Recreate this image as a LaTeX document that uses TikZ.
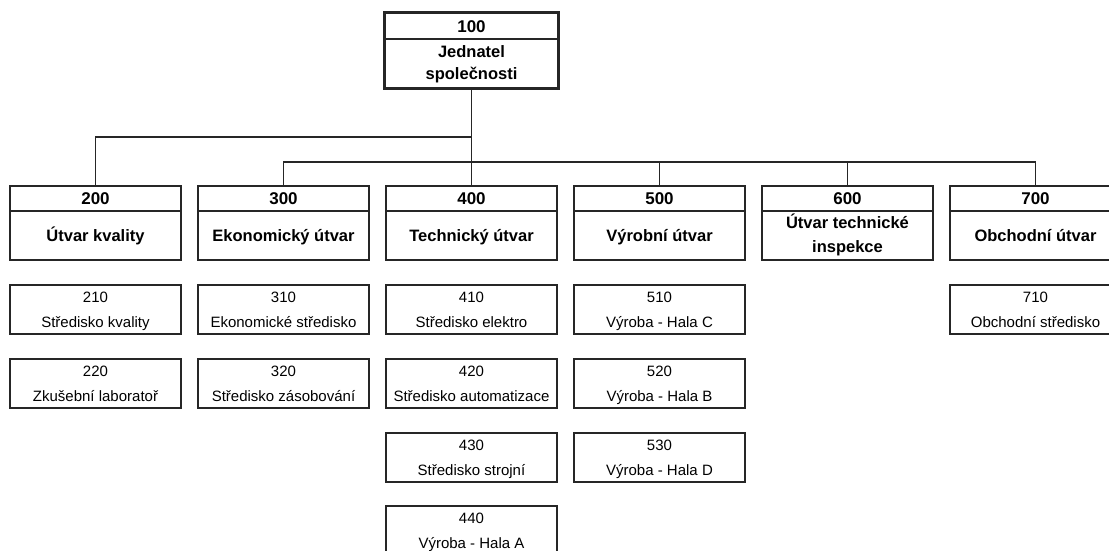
\documentclass[tikz,border=0pt]{standalone}
\usepackage{fontspec}
\setmainfont{Liberation Sans}
\begin{document}
\begin{tikzpicture}[x=1pt,y=-1pt,
  box/.style={draw=black!85, line width=1.6pt, minimum width=171pt, inner sep=0pt, align=center},
  hd/.style={box, minimum height=25pt, text height=12.2pt, text depth=0pt, font=\fontsize{17}{18}\selectfont\bfseries},
  nm/.style={box, minimum height=49pt, text height=11.8pt, text depth=0pt, font=\fontsize{16.5}{24}\selectfont\bfseries},
  nmtwo/.style={nm, text height=35.8pt, text depth=1.8pt},
  tophd/.style={hd, minimum width=173pt},
  topnm/.style={nm, minimum width=173pt, text height=33.8pt, text depth=1.8pt, font=\fontsize{16.5}{22}\selectfont\bfseries},
  sub/.style={box, minimum height=49pt, text height=40pt, text depth=4pt, font=\fontsize{15}{25}\selectfont},
  link/.style={draw=black!85, line width=1.6pt}]
\useasboundingbox (0,0) rectangle (1109,550);
\fill[white] (0,0) rectangle (1109,550);

% top
\node[tophd] (h100) at (471.5,26) {100};
\node[topnm] (n100) at (471.5,63.5) {Jednatel\\společnosti};
\draw[draw=black!85, line width=3pt] (h100.north west) rectangle (n100.south east);

% level 2
\node[hd] (h200) at (95.5,198.5) {200};
\node[nm] (n200) at (95.5,235.5) {Útvar kvality};
\node[hd] (h300) at (283.5,198.5) {300};
\node[nm] (n300) at (283.5,235.5) {Ekonomický útvar};
\node[hd] (h400) at (471.5,198.5) {400};
\node[nm] (n400) at (471.5,235.5) {Technický útvar};
\node[hd] (h500) at (659.5,198.5) {500};
\node[nm] (n500) at (659.5,235.5) {Výrobní útvar};
\node[hd] (h600) at (847.5,198.5) {600};
\node[nmtwo] (n600) at (847.5,235.5) {Útvar technické\\inspekce};
\node[hd] (h700) at (1035.5,198.5) {700};
\node[nm] (n700) at (1035.5,235.5) {Obchodní útvar};

% level 3
\node[sub] (s210) at (95.5,309.5) {210\\Středisko kvality};
\node[sub] (s220) at (95.5,383.5) {220\\Zkušební laboratoř};
\node[sub] (s310) at (283.5,309.5) {310\\Ekonomické středisko};
\node[sub] (s320) at (283.5,383.5) {320\\Středisko zásobování};
\node[sub] (s410) at (471.5,309.5) {410\\Středisko elektro};
\node[sub] (s420) at (471.5,383.5) {420\\Středisko automatizace};
\node[sub] (s430) at (471.5,457.5) {430\\Středisko strojní};
\node[sub] (s440) at (471.5,530.5) {440\\Výroba - Hala A};
\node[sub] (s510) at (659.5,309.5) {510\\Výroba - Hala C};
\node[sub] (s520) at (659.5,383.5) {520\\Výroba - Hala B};
\node[sub] (s530) at (659.5,457.5) {530\\Výroba - Hala D};
\node[sub] (s710) at (1035.5,309.5) {710\\Obchodní středisko};

% connectors
\coordinate (j1) at (471.5,137);
\coordinate (j2) at (471.5,162);
\draw[link] (n100.south) -- (h400.north);
\draw[link] (h200.north) |- (j1);
\draw[link] (h300.north) |- (j2);
\draw[link] (h500.north) |- (j2);
\draw[link] (h600.north) |- (j2);
\draw[link] (h700.north) |- (j2);
\end{tikzpicture}
\end{document}
